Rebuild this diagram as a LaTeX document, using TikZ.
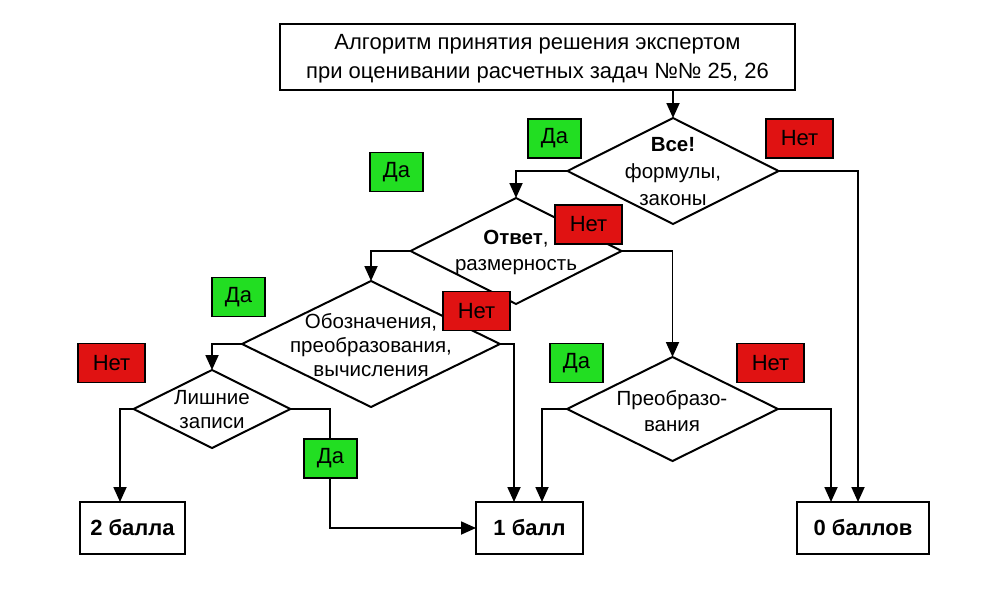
\documentclass[tikz,border=0pt]{standalone}
\usepackage{fontspec}
\setmainfont{Liberation Sans}
\usetikzlibrary{shapes.geometric,arrows.meta}
\definecolor{yesg}{RGB}{34,222,34}
\definecolor{nored}{RGB}{224,18,18}
\begin{document}
\begin{tikzpicture}[x=1pt,y=-1pt,
  arr/.style={-{Triangle[length=15pt,width=13pt]}, line width=1.8pt},
  dia/.style={diamond, draw, inner sep=0pt, outer sep=0pt, line width=2pt},
  box/.style={draw, rectangle, inner sep=0pt, outer sep=0pt, line width=2pt},
  tag/.style={draw, line width=1.2pt, inner sep=0pt, font=\fontsize{22}{24}\selectfont, minimum height=39pt},
  yes/.style={tag, fill=yesg, minimum width=53pt},
  no/.style={tag, fill=nored, minimum width=67pt},
  res/.style={box, minimum height=52pt, font=\fontsize{22}{26}\selectfont\bfseries},
]
\useasboundingbox (0,0) rectangle (982,594);
% title
\node[box, minimum width=515pt, minimum height=66pt, align=center,
      font=\fontsize{22}{29}\selectfont] (title) at (537.5,57) {};
\node[align=center, font=\fontsize{22}{29}\selectfont] (tt) at (537.5,59)
  {Алгоритм принятия решения экспертом\\при оценивании расчетных задач №№ 25, 26};
% decisions
\node[dia, minimum width=211pt, minimum height=106pt] (d1) at (673,171) {};
\node[dia, minimum width=211pt, minimum height=106pt] (d2) at (516,251) {};
\node[dia, minimum width=258pt, minimum height=126pt] (d3) at (371,344) {};
\node[dia, minimum width=157pt, minimum height=78pt] (d4) at (212,409) {};
\node[dia, minimum width=211pt, minimum height=104pt] (d5) at (672.5,409) {};
% results
\node[res, minimum width=105pt] (b2) at (132.5,528) {2 балла};
\node[res, minimum width=107pt] (b1) at (529.5,528) {1 балл};
\node[res, minimum width=132pt] (b0) at (863,528) {0 баллов};
% connectors
\draw[arr] (d1.north |- title.south) -- (d1.north);
\draw[arr] (d1.west) -| (d2.north);
\draw[arr] (d1.east) -| ([xshift=-5pt]b0.north);
\draw[arr] (d2.west) -| (d3.north);
\draw[arr] (d2.east) -| (d5.north);
\draw[arr] (d3.west) -| (d4.north);
\draw[arr] (d3.east) -| ([xshift=-15.5pt]b1.north);
\draw[arr] (d4.west) -| ([xshift=-12.5pt]b2.north);
\coordinate (c4) at (330,528);
\draw[arr] (d4.east) -| (c4) -- (b1.west);
\draw[arr] (d5.west) -| ([xshift=12.5pt]b1.north);
\draw[arr] (d5.east) -| ([xshift=-32pt]b0.north);
% decision texts
\node[align=center, font=\fontsize{20.5}{27}\selectfont] (t1) at (673,172)
  {\bfseries Все!\\формулы,\\законы};
\node[align=center, font=\fontsize{20.5}{26}\selectfont] (t2) at (516,252)
  {\textbf{Ответ},\\размерность};
\node[align=center, font=\fontsize{20.5}{24}\selectfont] (t3) at (371,345)
  {Обозначения,\\преобразования,\\вычисления};
\node[align=center, font=\fontsize{20.5}{24}\selectfont] (t4) at (212,410)
  {Лишние\\записи};
\node[align=center, font=\fontsize{20.5}{26}\selectfont] (t5) at (672,411)
  {Преобразо-\\вания};
% yes / no tags
\node[yes] (y1) at (554.5,138.5) {Да};
\node[yes] (y2) at (396.5,172) {Да};
\node[yes] (y3) at (238.5,297) {Да};
\node[yes] (y5) at (576.5,363) {Да};
\node[yes] (y4) at (330.5,458.5) {Да};
\node[no] (n1) at (799.5,138.5) {Нет};
\node[no] (n2) at (588.5,224.5) {Нет};
\node[no] (n3) at (476.5,311) {Нет};
\node[no] (n4) at (111.5,363) {Нет};
\node[no] (n5) at (770.5,363) {Нет};
\end{tikzpicture}
\end{document}
